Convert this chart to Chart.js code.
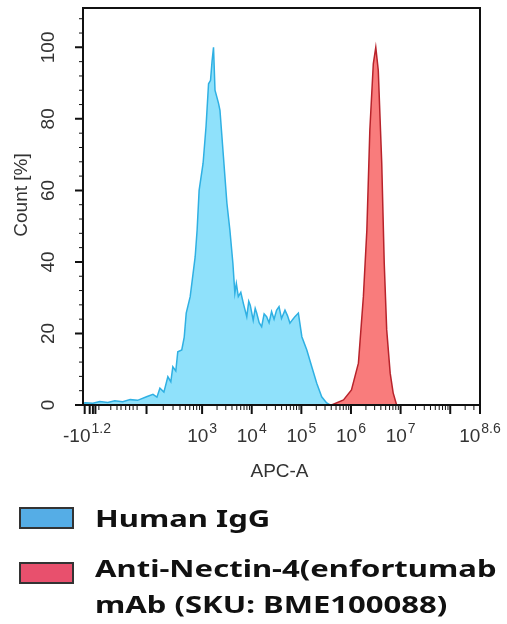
<!DOCTYPE html>
<html>
<head>
<meta charset="utf-8">
<script src="https://cdn.jsdelivr.net/npm/chart.js@4.4.1/dist/chart.umd.min.js"></script>
<style>
  html, body { margin: 0; padding: 0; background: #fff; }
</style>
</head>
<body>
<canvas id="myChart" width="507" height="624"></canvas>
<script>
// x values are positions on the biexponential APC-A axis, in decades (10^3 -> 3)
let iggX = [0.60, 0.64, 0.80, 0.94, 1.10, 1.24, 1.40, 1.55, 1.70, 1.88, 2.01, 2.09, 2.15, 2.23, 2.31, 2.37, 2.41, 2.47, 2.51, 2.59,
            2.64, 2.68, 2.76, 2.86, 2.90, 2.94, 3.02, 3.08, 3.13, 3.17, 3.20, 3.23, 3.26, 3.33, 3.36, 3.43, 3.50, 3.56, 3.62, 3.66,
            3.69, 3.73, 3.78, 3.83, 3.90, 3.94, 3.97, 4.03, 4.07, 4.10, 4.15, 4.20, 4.25, 4.30, 4.35, 4.40, 4.45, 4.50, 4.55, 4.60,
            4.67, 4.72, 4.77, 4.83, 4.87, 4.94, 5.01, 5.11, 5.21, 5.31, 5.41, 5.51, 5.58];
let iggY = [0.4, 0.6, 0.5, 1.0, 0.7, 1.2, 0.9, 1.5, 1.3, 2.3, 3.0, 2.2, 4.7, 3.6, 7.9, 6.5, 10.7, 9.5, 14.9, 15.4,
            19.0, 25.7, 30.3, 41.4, 49.0, 60.0, 67.6, 78.0, 89.8, 90.8, 96.0, 100, 88.0, 84.4, 82.4, 69.4, 56.4, 48.9, 39.7, 31.3,
            34.0, 30.3, 31.5, 28.5, 24.7, 29.0, 27.9, 23.7, 27.0, 25.7, 23.0, 21.9, 25.5, 24.7, 23.0, 26.1, 24.0, 26.5, 27.5, 24.2,
            26.5, 25.0, 22.9, 24.0, 24.7, 25.7, 19.1, 15.4, 10.7, 6.1, 2.3, 0.6, 0];

let nectinX = [5.61, 5.85, 6.01, 6.15, 6.25, 6.32, 6.38, 6.45, 6.50, 6.55, 6.62, 6.67, 6.72, 6.79, 6.85, 6.92];
let nectinY = [0, 1.4, 4.2, 11.7, 30.3, 48.9, 76.8, 95.4, 100, 93.6, 67.6, 39.7, 21.0, 8.9, 3.4, 0];

let seriesNames = ['Human IgG', 'Anti-Nectin-4(enfortumab mAb (SKU: BME100088)'];
let legendLines = [['Human IgG'], ['Anti-Nectin-4(enfortumab', 'mAb (SKU: BME100088)']];

// axis ticks
let xMajor = [0.634, 0.735, 0.80, 0.85, 1.88, 3, 4, 5, 6, 7, 8, 8.6];
let xLabelPos = [0.634, 3, 4, 5, 6, 7, 8.6];
let xLabelExp = ['1.2', '3', '4', '5', '6', '7', '8.6'];
let xLabelBase = ['-10', '10', '10', '10', '10', '10', '10'];
let xMinorLeft = [0.92, 1.16, 1.285, 1.366, 1.46, 1.54, 1.61, 1.69];
let yMajor = [0, 20, 40, 60, 80, 100];

let toPoints = (xs, ys) => xs.map((v, i) => ({ x: v, y: ys[i] }));

// log minor ticks inside each decade
let xMinor = xMinorLeft.slice();
for (let d = 3; d <= 8; d++) {
  for (let k = 2; k <= 9; k++) {
    let v = d + Math.log10(k);
    if (v < 8.6) xMinor.push(v);
  }
}
for (let k = 2; k <= 9; k++) xMinor.push(1.88 + 1.12 * Math.log10(k));
let yMinor = [];
for (let v = 4; v <= 108; v += 4) if (v % 20 !== 0) yMinor.push(v);

function drawPow(ctx, base, exp, cx, baseline, minLeft) {
  ctx.font = '19px "Liberation Sans", Arial, sans-serif';
  let wb = ctx.measureText(base).width;
  ctx.font = '14px "Liberation Sans", Arial, sans-serif';
  let we = ctx.measureText(exp).width;
  let left = Math.max(cx - (wb + we + 1) / 2, minLeft);
  ctx.font = '19px "Liberation Sans", Arial, sans-serif';
  ctx.fillText(base, left, baseline);
  ctx.font = '14px "Liberation Sans", Arial, sans-serif';
  ctx.fillText(exp, left + wb + 1, baseline - 9);
}

const flowAxes = {
  id: 'flowAxes',
  afterDraw(chart) {
    const { ctx, chartArea: a, scales: { x, y } } = chart;
    ctx.save();
    ctx.strokeStyle = '#111';
    ctx.lineWidth = 2;
    ctx.strokeRect(a.left, a.top, a.right - a.left, a.bottom - a.top);

    ctx.beginPath();
    xMajor.forEach(v => { let p = x.getPixelForValue(v); ctx.moveTo(p, a.bottom); ctx.lineTo(p, a.bottom + 9); });
    yMajor.forEach(v => { let p = y.getPixelForValue(v); ctx.moveTo(a.left, p); ctx.lineTo(a.left - 8, p); });
    ctx.stroke();
    ctx.lineWidth = 1;
    ctx.beginPath();
    xMinor.forEach(v => { let p = x.getPixelForValue(v); ctx.moveTo(p, a.bottom); ctx.lineTo(p, a.bottom + 5); });
    yMinor.forEach(v => { let p = y.getPixelForValue(v); ctx.moveTo(a.left, p); ctx.lineTo(a.left - 4, p); });
    ctx.stroke();

    ctx.fillStyle = '#333';
    ctx.textAlign = 'left';
    ctx.textBaseline = 'alphabetic';
    xLabelPos.forEach((v, i) => drawPow(ctx, xLabelBase[i], xLabelExp[i], x.getPixelForValue(v), a.bottom + 37, 63));

    ctx.font = '19px "Liberation Sans", Arial, sans-serif';
    ctx.textAlign = 'center';
    ctx.fillText('APC-A', (a.left + a.right) / 2 - 2, a.bottom + 72);

    ctx.textBaseline = 'middle';
    yMajor.forEach(v => {
      ctx.save();
      ctx.translate(49, y.getPixelForValue(v));
      ctx.rotate(-Math.PI / 2);
      ctx.fillText(String(v), 0, 0);
      ctx.restore();
    });
    ctx.save();
    ctx.translate(22, 195);
    ctx.rotate(-Math.PI / 2);
    ctx.fillText('Count [%]', 0, 0);
    ctx.restore();

    // legend
    ctx.textAlign = 'left';
    ctx.textBaseline = 'alphabetic';
    let boxTop = [508, 563];
    let textBase = [527, 577];
    chart.data.datasets.forEach((ds, i) => {
      ctx.fillStyle = ds.legendColor;
      ctx.fillRect(20, boxTop[i], 53, 20);
      ctx.strokeStyle = '#333';
      ctx.lineWidth = 2;
      ctx.strokeRect(20, boxTop[i], 53, 20);
      ctx.fillStyle = '#111';
      ctx.font = 'bold 23px "Noto Sans", "Open Sans", sans-serif';
      legendLines[i].forEach((line, j) => {
        ctx.save();
        ctx.translate(95, textBase[i] + j * 36);
        ctx.scale(1.35, 1);
        ctx.fillText(line, 0, 0);
        ctx.restore();
      });
    });
    ctx.restore();
  }
};

let ctx = document.getElementById('myChart').getContext('2d');
let myChart = new Chart(ctx, {
  type: 'line',
  data: {
    datasets: [
      {
        label: seriesNames[0],
        data: toPoints(iggX, iggY),
        borderColor: '#2fb0e3',
        backgroundColor: '#8fe1fb',
        legendColor: '#55ade6',
        borderWidth: 1.5,
        pointRadius: 0,
        fill: 'origin',
        tension: 0
      },
      {
        label: seriesNames[1],
        data: toPoints(nectinX, nectinY),
        borderColor: '#b8232b',
        backgroundColor: '#f97c7c',
        legendColor: '#e8506d',
        borderWidth: 1.5,
        pointRadius: 0,
        fill: 'origin',
        tension: 0
      }
    ]
  },
  options: {
    responsive: false,
    animation: false,
    devicePixelRatio: 1,
    layout: { padding: { left: 83, right: 27, top: 8, bottom: 219 } },
    plugins: { legend: { display: false }, tooltip: { enabled: false } },
    scales: {
      x: { type: 'linear', min: 0.6, max: 8.6, display: false },
      y: { min: 0, max: 111, display: false }
    }
  },
  plugins: [flowAxes]
});
</script>
</body>
</html>
